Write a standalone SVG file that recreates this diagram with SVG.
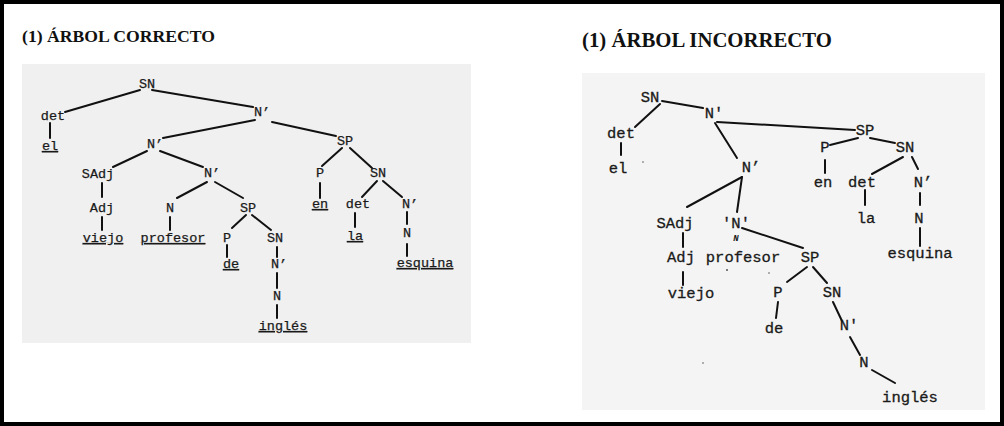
<svg xmlns="http://www.w3.org/2000/svg" width="1004" height="426" viewBox="0 0 1004 426">
<style>
.title{font-family:"Liberation Serif","Times New Roman",serif;font-weight:bold;fill:#111}
.lt{font-family:"Liberation Mono","Courier New",monospace;font-size:13.5px;fill:#1a1a1a;text-anchor:middle;stroke:#1a1a1a;stroke-width:0.25}
.rt{font-family:"Liberation Mono","Courier New",monospace;font-size:15.5px;fill:#1a1a1a;text-anchor:middle;stroke:#1a1a1a;stroke-width:0.3}
.u{text-decoration:underline}
.edges line{stroke:#111;stroke-width:2;stroke-linecap:round}
</style>
<rect x="0" y="0" width="1004" height="426" fill="#ffffff"/>
<rect x="2" y="2" width="1000" height="422" fill="none" stroke="#000" stroke-width="4"/>
<text class="title" x="22" y="42" font-size="17.5" textLength="193" lengthAdjust="spacingAndGlyphs">(1) ÁRBOL CORRECTO</text>
<text class="title" x="582" y="47" font-size="20.5" textLength="250" lengthAdjust="spacingAndGlyphs">(1) ÁRBOL INCORRECTO</text>
<rect x="22" y="64" width="449" height="279" fill="#f0f0f0"/>
<rect x="582" y="73" width="403" height="337" fill="#f4f4f4"/>

<g id="left-edges" class="edges">
<line x1="65" y1="112" x2="140" y2="90"/>
<line x1="152" y1="90" x2="253" y2="107"/>
<line x1="50" y1="123" x2="50" y2="138"/>
<line x1="163" y1="138" x2="255" y2="120"/>
<line x1="272" y1="122" x2="336" y2="136"/>
<line x1="147" y1="151" x2="113" y2="167"/>
<line x1="160" y1="151" x2="203" y2="167"/>
<line x1="102" y1="183" x2="102" y2="197"/>
<line x1="102" y1="217" x2="102" y2="230"/>
<line x1="207" y1="182" x2="177" y2="198"/>
<line x1="215" y1="182" x2="243" y2="198"/>
<line x1="170" y1="217" x2="170" y2="230"/>
<line x1="246" y1="215" x2="232" y2="228"/>
<line x1="252" y1="215" x2="271" y2="230"/>
<line x1="227" y1="245" x2="227" y2="257"/>
<line x1="277" y1="247" x2="277" y2="257"/>
<line x1="277" y1="273" x2="277" y2="288"/>
<line x1="277" y1="305" x2="277" y2="318"/>
<line x1="342" y1="148" x2="322" y2="166"/>
<line x1="350" y1="148" x2="372" y2="168"/>
<line x1="320" y1="183" x2="320" y2="198"/>
<line x1="377" y1="181" x2="362" y2="197"/>
<line x1="383" y1="181" x2="402" y2="197"/>
<line x1="355" y1="213" x2="355" y2="227"/>
<line x1="407" y1="212" x2="407" y2="224"/>
<line x1="407" y1="244" x2="407" y2="256"/>
</g>

<g id="L-SN"><text class="lt" x="147" y="88">SN</text></g>
<g id="L-det"><text class="lt" x="53" y="120">det</text></g>
<g id="L-el"><text class="lt u" x="50" y="150">el</text></g>
<g id="L-Nbar1"><text class="lt" x="262" y="116">N’</text></g>
<g id="L-Nbar2"><text class="lt" x="155" y="148">N’</text></g>
<g id="L-SAdj"><text class="lt" x="98" y="178">SAdj</text></g>
<g id="L-Nbar3"><text class="lt" x="212" y="177">N’</text></g>
<g id="L-Adj"><text class="lt" x="102" y="212">Adj</text></g>
<g id="L-viejo"><text class="lt u" x="103" y="242">viejo</text></g>
<g id="L-N1"><text class="lt" x="170" y="212">N</text></g>
<g id="L-profesor"><text class="lt u" x="173" y="242">profesor</text></g>
<g id="L-SP2"><text class="lt" x="248" y="212">SP</text></g>
<g id="L-P2"><text class="lt" x="227" y="242">P</text></g>
<g id="L-de"><text class="lt u" x="231" y="268">de</text></g>
<g id="L-SN3"><text class="lt" x="275" y="242">SN</text></g>
<g id="L-Nbar4"><text class="lt" x="279" y="268">N’</text></g>
<g id="L-N2"><text class="lt" x="277" y="300">N</text></g>
<g id="L-ingles"><text class="lt u" x="283" y="330">inglés</text></g>
<g id="L-SP1"><text class="lt" x="345" y="145">SP</text></g>
<g id="L-P1"><text class="lt" x="320" y="177">P</text></g>
<g id="L-en"><text class="lt u" x="320" y="208">en</text></g>
<g id="L-SN2"><text class="lt" x="378" y="177">SN</text></g>
<g id="L-det2"><text class="lt" x="358" y="208">det</text></g>
<g id="L-la"><text class="lt u" x="355" y="240">la</text></g>
<g id="L-Nbar5"><text class="lt" x="410" y="208">N’</text></g>
<g id="L-N3"><text class="lt" x="407" y="237">N</text></g>
<g id="L-esquina"><text class="lt u" x="425" y="267">esquina</text></g>

<g id="right-edges" class="edges">
<line x1="662" y1="101" x2="703" y2="108"/>
<line x1="660" y1="104" x2="635" y2="127"/>
<line x1="621" y1="143" x2="621" y2="155"/>
<line x1="715" y1="123" x2="737" y2="158"/>
<line x1="717" y1="122" x2="855" y2="130"/>
<line x1="858" y1="138" x2="830" y2="145"/>
<line x1="870" y1="138" x2="895" y2="143"/>
<line x1="825" y1="160" x2="825" y2="173"/>
<line x1="903" y1="157" x2="872" y2="174"/>
<line x1="912" y1="157" x2="918" y2="169"/>
<line x1="865" y1="190" x2="865" y2="205"/>
<line x1="920" y1="193" x2="920" y2="205"/>
<line x1="920" y1="228" x2="920" y2="246"/>
<line x1="742" y1="177" x2="687" y2="207"/>
<line x1="742" y1="177" x2="737" y2="212"/>
<line x1="742" y1="228" x2="803" y2="248"/>
<line x1="683" y1="233" x2="683" y2="247"/>
<line x1="683" y1="272" x2="683" y2="285"/>
<line x1="807" y1="267" x2="787" y2="282"/>
<line x1="813" y1="267" x2="827" y2="283"/>
<line x1="778" y1="302" x2="776" y2="318"/>
<line x1="833" y1="302" x2="842" y2="321"/>
<line x1="850" y1="337" x2="860" y2="355"/>
<line x1="872" y1="370" x2="895" y2="383"/>
</g>

<g id="R-SN"><text class="rt" x="650" y="102">SN</text></g>
<g id="R-Nbar1"><text class="rt" x="714" y="118">N'</text></g>
<g id="R-det"><text class="rt" x="621" y="138">det</text></g>
<g id="R-el"><text class="rt" x="618" y="173">el</text></g>
<g id="R-Nbar2"><text class="rt" x="751" y="172">N’</text></g>
<g id="R-SP1"><text class="rt" x="865" y="135">SP</text></g>
<g id="R-P1"><text class="rt" x="825" y="152">P</text></g>
<g id="R-SN2"><text class="rt" x="905" y="152">SN</text></g>
<g id="R-en"><text class="rt" x="823" y="187">en</text></g>
<g id="R-det2"><text class="rt" x="862" y="187">det</text></g>
<g id="R-Nbar3"><text class="rt" x="923" y="187">N’</text></g>
<g id="R-la"><text class="rt" x="866" y="223">la</text></g>
<g id="R-N1"><text class="rt" x="919" y="223">N</text></g>
<g id="R-esquina"><text class="rt" x="920" y="258">esquina</text></g>
<g id="R-SAdj"><text class="rt" x="675" y="228">SAdj</text></g>
<g id="R-Nbar4"><text class="rt" x="736" y="228">'N'</text><text x="736" y="241" font-family="Liberation Mono, monospace" font-size="9" font-weight="bold" font-style="italic" fill="#1a1a1a" text-anchor="middle">N</text></g>
<g id="R-Adj"><text class="rt" x="681" y="262">Adj</text></g>
<g id="R-profesor"><text class="rt" x="743" y="262">profesor</text></g>
<g id="R-SP2"><text class="rt" x="810" y="262">SP</text></g>
<g id="R-viejo"><text class="rt" x="691" y="298">viejo</text></g>
<g id="R-P2"><text class="rt" x="778" y="297">P</text></g>
<g id="R-SN3"><text class="rt" x="832" y="297">SN</text></g>
<g id="R-de"><text class="rt" x="774" y="333">de</text></g>
<g id="R-Nbar5"><text class="rt" x="849" y="330">N'</text></g>
<g id="R-N2"><text class="rt" x="864" y="367">N</text></g>
<g id="R-ingles"><text class="rt" x="910" y="402">inglés</text></g>

<g id="specks" fill="#555">
<circle cx="727" cy="270" r="1"/>
<circle cx="769" cy="273" r="0.8"/>
<circle cx="703" cy="363" r="0.8"/>
<circle cx="643" cy="162" r="0.8"/>
</g>
</svg>
